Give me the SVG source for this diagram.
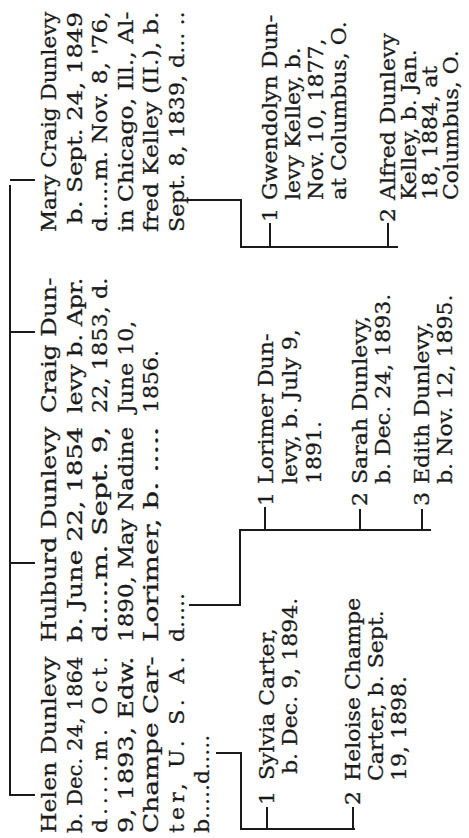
<svg xmlns="http://www.w3.org/2000/svg" width="469" height="838" viewBox="0 0 469 838">
<style>
.t{font-family:"DejaVu Serif","Liberation Serif",serif;font-size:21px;fill:#1a1a1a;stroke:#1a1a1a;stroke-width:0.3}
.c{stroke:#1a1a1a;stroke-width:2;fill:none;stroke-linecap:square}
</style>
<rect width="469" height="838" fill="#fff"/>
<g transform="matrix(0 -1 1 0 0 838)">
<g id="connectors">
<path class="c" d="M43 10H652 M43 10V34 M275 10V34 M506 10V34 M658 11V34"/>
<path class="c" d="M85 217V241H9V354 M9 267H30 M9 353H30"/>
<path class="c" d="M233 190V240H308V430 M308 265H330 M308 360H328 M308 422H328"/>
<path class="c" d="M638 188V241H591V397 M591 270H614 M591 388H614"/>
</g>
<g id="helen">
<text class="t" transform="translate(5 56) scale(1.05 1)" textLength="168" lengthAdjust="spacingAndGlyphs">Helen Dunlevy</text>
<text class="t" transform="translate(5 82) scale(1.05 1)" textLength="168" lengthAdjust="spacingAndGlyphs">b. Dec. 24, 1864</text>
<text class="t" transform="translate(5 107) scale(1.05 1)" textLength="168" lengthAdjust="spacing">d.....m. Oct.</text>
<text class="t" transform="translate(5 133) scale(1.05 1)" textLength="168" lengthAdjust="spacingAndGlyphs">9, 1893, Edw.</text>
<text class="t" transform="translate(5 158) scale(1.05 1)" textLength="168" lengthAdjust="spacingAndGlyphs">Champe Car-</text>
<text class="t" transform="translate(5 184) scale(1.05 1)" textLength="168" lengthAdjust="spacing">ter, U. S. A.</text>
<text class="t" transform="translate(5 209) scale(1.05 1)">b.....d.....</text>
</g>
<g id="hulburd">
<text class="t" transform="translate(196 56) scale(1.05 1)" textLength="205" lengthAdjust="spacingAndGlyphs">Hulburd Dunlevy</text>
<text class="t" transform="translate(196 82) scale(1.05 1)" textLength="205" lengthAdjust="spacingAndGlyphs">b. June 22, 1854</text>
<text class="t" transform="translate(196 107) scale(1.05 1)" textLength="205" lengthAdjust="spacingAndGlyphs">d.....m. Sept. 9,</text>
<text class="t" transform="translate(196 133) scale(1.05 1)" textLength="205" lengthAdjust="spacingAndGlyphs">1890, May Nadine</text>
<text class="t" transform="translate(196 158) scale(1.05 1)" textLength="205" lengthAdjust="spacingAndGlyphs">Lorimer, b. .....</text>
<text class="t" transform="translate(196 184) scale(1.05 1)">d.....</text>
</g>
<g id="craig">
<text class="t" transform="translate(425 56) scale(1.05 1)" textLength="129" lengthAdjust="spacingAndGlyphs">Craig Dun-</text>
<text class="t" transform="translate(425 82) scale(1.05 1)" textLength="129" lengthAdjust="spacingAndGlyphs">levy b. Apr.</text>
<text class="t" transform="translate(425 107) scale(1.05 1)" textLength="129" lengthAdjust="spacingAndGlyphs">22, 1853, d.</text>
<text class="t" transform="translate(425 133) scale(1.05 1)">June 10,</text>
<text class="t" transform="translate(425 158) scale(1.05 1)">1856.</text>
</g>
<g id="mary">
<text class="t" transform="translate(606 56) scale(1.05 1)" textLength="210" lengthAdjust="spacingAndGlyphs">Mary Craig Dunlevy</text>
<text class="t" transform="translate(614 82) scale(1.05 1)" textLength="202" lengthAdjust="spacingAndGlyphs">b. Sept. 24, 1849</text>
<text class="t" transform="translate(606 107) scale(1.05 1)" textLength="210" lengthAdjust="spacingAndGlyphs">d.....m. Nov. 8, '76,</text>
<text class="t" transform="translate(606 133) scale(1.05 1)" textLength="210" lengthAdjust="spacingAndGlyphs">in Chicago, Ill., Al-</text>
<text class="t" transform="translate(606 158) scale(1.05 1)" textLength="210" lengthAdjust="spacingAndGlyphs">fred Kelley (II.), b.</text>
<text class="t" transform="translate(606 184) scale(1.05 1)" textLength="210" lengthAdjust="spacingAndGlyphs">Sept. 8, 1839, d... ..</text>
</g>
<g id="sylvia">
<text class="t" transform="translate(33 274) scale(1.05 1)">1</text>
<text class="t" transform="translate(58 274) scale(1.05 1)">Sylvia Carter,</text>
<text class="t" transform="translate(64 297) scale(1.05 1)">b. Dec. 9, 1894.</text>
</g>
<g id="heloise">
<text class="t" transform="translate(33 360) scale(1.05 1)">2</text>
<text class="t" transform="translate(57 360) scale(1.05 1)">Heloise Champe</text>
<text class="t" transform="translate(57 383) scale(1.05 1)">Carter, b. Sept.</text>
<text class="t" transform="translate(57 406) scale(1.05 1)">19, 1898.</text>
</g>
<g id="lorimer">
<text class="t" transform="translate(332 273) scale(1.05 1)">1</text>
<text class="t" transform="translate(354 273) scale(1.05 1)">Lorimer Dun-</text>
<text class="t" transform="translate(354 297) scale(1.05 1)">levy, b. July 9,</text>
<text class="t" transform="translate(354 321) scale(1.05 1)">1891.</text>
</g>
<g id="sarah">
<text class="t" transform="translate(332 367) scale(1.05 1)">2</text>
<text class="t" transform="translate(354 367) scale(1.05 1)">Sarah Dunlevy,</text>
<text class="t" transform="translate(354 390) scale(1.05 1)">b. Dec. 24, 1893.</text>
</g>
<g id="edith">
<text class="t" transform="translate(332 429) scale(1.05 1)">3</text>
<text class="t" transform="translate(354 429) scale(1.05 1)">Edith Dunlevy,</text>
<text class="t" transform="translate(354 452) scale(1.05 1)">b. Nov. 12, 1895.</text>
</g>
<g id="gwendolyn">
<text class="t" transform="translate(616 277) scale(1.05 1)">1</text>
<text class="t" transform="translate(638 277) scale(1.05 1)">Gwendolyn Dun-</text>
<text class="t" transform="translate(638 300) scale(1.05 1)">levy Kelley, b.</text>
<text class="t" transform="translate(638 323) scale(1.05 1)">Nov. 10, 1877,</text>
<text class="t" transform="translate(638 346) scale(1.05 1)">at Columbus, O.</text>
</g>
<g id="alfred">
<text class="t" transform="translate(616 395) scale(1.05 1)">2</text>
<text class="t" transform="translate(638 395) scale(1.05 1)">Alfred Dunlevy</text>
<text class="t" transform="translate(638 416) scale(1.05 1)">Kelley, b. Jan.</text>
<text class="t" transform="translate(638 437) scale(1.05 1)">18, 1884, at</text>
<text class="t" transform="translate(638 458) scale(1.05 1)">Columbus, O.</text>
</g>
</g>
</svg>
